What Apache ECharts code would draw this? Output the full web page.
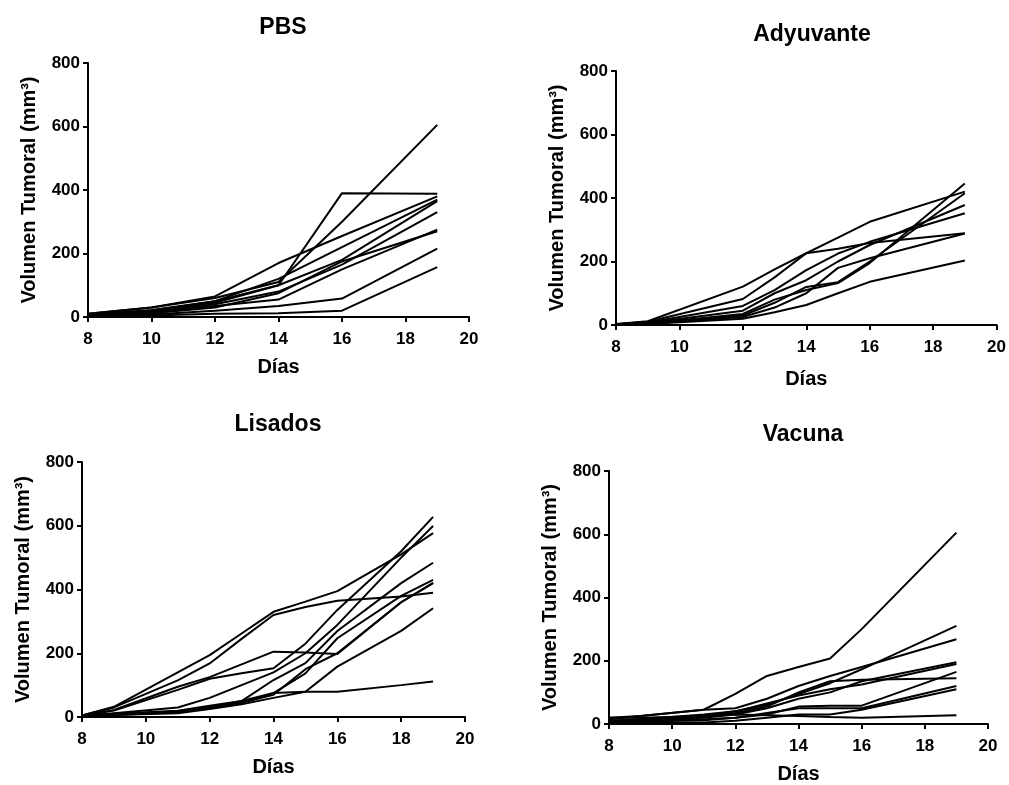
<!DOCTYPE html>
<html>
<head>
<meta charset="utf-8">
<script src="https://cdn.jsdelivr.net/npm/echarts@6/dist/echarts.min.js"></script>
<style>
  html, body { margin: 0; padding: 0; background: #fff; }
  #chart { width: 1009px; height: 785px; }
</style>
</head>
<body>
<div id="chart"></div>
<script>
// Tumour volume (mm³) per mouse, by measurement day, for each treatment group.
const panelTitles = ['PBS', 'Adyuvante', 'Lisados', 'Vacuna'];
const xTicks = [8, 10, 12, 14, 16, 18, 20];
const yTicks = [0, 200, 400, 600, 800];

const pbsDays = [8, 10, 12, 14, 16, 19];
const pbsVolumes = [
  [5, 20, 50, 100, 390, 388],
  [10, 30, 60, 110, 300, 605],
  [10, 30, 65, 170, 255, 380],
  [8, 22, 50, 120, 220, 370],
  [6, 18, 45, 100, 180, 365],
  [6, 15, 40, 80, 165, 330],
  [5, 15, 35, 55, 150, 275],
  [4, 12, 30, 75, 175, 270],
  [3, 8, 20, 35, 58, 215],
  [2, 5, 10, 12, 20, 157]
];

const adyDays = [8, 9, 12, 13, 14, 15, 16, 19];
const adyVolumes = [
  [3, 12, 121, 175, 226, 275, 325, 420],
  [2, 10, 82, 150, 226, 240, 258, 289],
  [2, 8, 60, 110, 173, 225, 262, 352],
  [2, 6, 45, 100, 141, 200, 252, 378],
  [1, 5, 35, 80, 110, 132, 195, 446],
  [1, 5, 30, 70, 120, 135, 200, 415],
  [1, 4, 25, 55, 100, 180, 210, 288],
  [1, 3, 20, 40, 63, 100, 136, 203]
];

const lisDays = [8, 9, 11, 12, 13, 14, 15, 16, 18, 19];
const lisVolumes = [
  [5, 32, 140, 194, 262, 330, 362, 395, 510, 577],
  [5, 30, 115, 168, 245, 320, 345, 365, 378, 390],
  [4, 22, 95, 125, 165, 205, 202, 198, 360, 420],
  [4, 20, 85, 120, 137, 153, 230, 336, 520, 628],
  [3, 12, 30, 60, 100, 140, 200, 289, 500, 599],
  [3, 10, 20, 35, 50, 116, 169, 270, 420, 484],
  [3, 8, 15, 30, 45, 75, 137, 247, 380, 430],
  [2, 6, 12, 25, 40, 60, 79, 158, 270, 341],
  [2, 8, 18, 30, 50, 75, 79, 79, 100, 111],
  [2, 6, 15, 28, 45, 70, 150, 200, 360, 421]
];

const vacDays = [8, 9, 11, 12, 13, 14, 15, 16, 19];
const vacVolumes = [
  [20, 25, 45, 95, 152, 180, 207, 300, 605],
  [10, 15, 25, 40, 60, 95, 129, 173, 310],
  [15, 25, 45, 50, 80, 120, 152, 180, 268],
  [8, 12, 20, 30, 50, 80, 100, 135, 195],
  [10, 15, 30, 40, 65, 90, 110, 125, 190],
  [5, 10, 15, 20, 30, 55, 58, 58, 165],
  [8, 12, 25, 35, 55, 100, 135, 140, 145],
  [5, 8, 12, 20, 35, 50, 50, 50, 120],
  [3, 5, 5, 10, 20, 30, 30, 45, 110],
  [20, 20, 25, 30, 28, 25, 22, 20, 28]
];

const groups = [
  { days: pbsDays, volumes: pbsVolumes },
  { days: adyDays, volumes: adyVolumes },
  { days: lisDays, volumes: lisVolumes },
  { days: vacDays, volumes: vacVolumes }
];

// Plot frames: [left, top, width, height] in pixels, plus title centre and axis-name gap.
const frames = [
  { box: [88, 63, 381, 254], title: [283, 28], xGap: 40 },
  { box: [616, 71, 381, 254], title: [812, 35], xGap: 44 },
  { box: [82, 462, 383, 255], title: [278, 425], xGap: 40 },
  { box: [609, 471, 379, 254], title: [803, 435], xGap: 40 }
];

const FONT = '"Liberation Sans", Arial, sans-serif';
const INK = '#000';

const grid = [], xAxis = [], yAxis = [], series = [], graphic = [];

frames.forEach((f, i) => {
  grid.push({ left: f.box[0], top: f.box[1], width: f.box[2], height: f.box[3], containLabel: false });
  xAxis.push({
    gridIndex: i, type: 'value', min: xTicks[0], max: xTicks[xTicks.length - 1], interval: 2,
    name: 'Días', nameLocation: 'middle', nameGap: f.xGap,
    nameTextStyle: { fontFamily: FONT, fontWeight: 'bold', fontSize: 20, color: INK },
    axisLine: { show: true, onZero: false, lineStyle: { color: INK, width: 2 } },
    axisTick: { show: true, inside: false, length: 5, lineStyle: { color: INK, width: 2 } },
    axisLabel: { margin: 14, fontFamily: FONT, fontWeight: 'bold', fontSize: 17, color: INK },
    splitLine: { show: false }
  });
  yAxis.push({
    gridIndex: i, type: 'value', min: yTicks[0], max: yTicks[yTicks.length - 1], interval: 200,
    name: 'Volumen Tumoral (mm³)', nameLocation: 'middle', nameGap: 49, nameRotate: 90,
    nameTextStyle: { fontFamily: FONT, fontWeight: 'bold', fontSize: 20, color: INK },
    axisLine: { show: true, lineStyle: { color: INK, width: 2 } },
    axisTick: { show: true, inside: false, length: 5, lineStyle: { color: INK, width: 2 } },
    axisLabel: { margin: 8, fontFamily: FONT, fontWeight: 'bold', fontSize: 17, color: INK },
    splitLine: { show: false }
  });
  graphic.push({
    type: 'text', x: f.title[0], y: f.title[1],
    style: {
      text: panelTitles[i], fontFamily: FONT, fontWeight: 'bold', fontSize: 23,
      fill: INK, align: 'center', verticalAlign: 'middle'
    }
  });
  const g = groups[i];
  g.volumes.forEach((vals, k) => {
    series.push({
      name: panelTitles[i] + ' ' + (k + 1),
      type: 'line', xAxisIndex: i, yAxisIndex: i,
      data: g.days.map((d, j) => [d, vals[j]]),
      showSymbol: false, symbol: 'none',
      lineStyle: { color: INK, width: 2 },
      emphasis: { disabled: true },
      silent: true
    });
  });
});

const chart = echarts.init(document.getElementById('chart'), null, { renderer: 'canvas' });
chart.setOption({
  backgroundColor: '#fff',
  animation: false,
  grid, xAxis, yAxis, series, graphic
});
</script>
</body>
</html>
